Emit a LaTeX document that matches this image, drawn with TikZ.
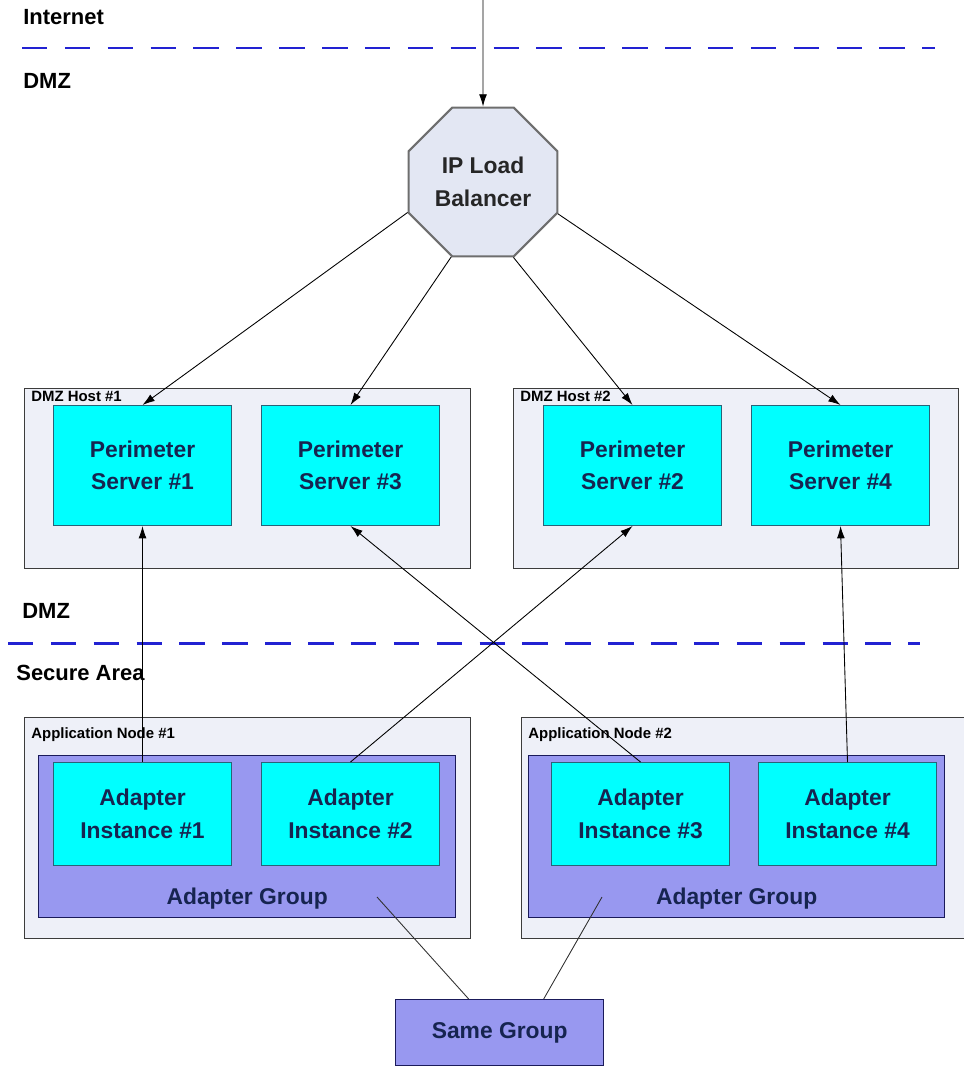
\documentclass[tikz,border=0pt]{standalone}
\usepackage{fontspec}
\setmainfont{Liberation Sans}
\usepackage{xcolor}
\usetikzlibrary{shapes.geometric,arrows.meta,positioning,calc}

\definecolor{hostfill}{RGB}{238,240,248}
\definecolor{hostline}{RGB}{60,60,60}
\definecolor{srvfill}{RGB}{0,255,255}
\definecolor{srvline}{RGB}{40,100,120}
\definecolor{grpfill}{RGB}{152,152,240}
\definecolor{grpline}{RGB}{26,26,90}
\definecolor{lbfill}{RGB}{227,231,243}
\definecolor{lbline}{RGB}{110,110,110}
\definecolor{zoneblue}{RGB}{34,34,210}
\definecolor{boxtext}{RGB}{22,36,80}

\begin{document}
\begin{tikzpicture}[
    x=0.02cm, y=-0.02cm,
    zonetext/.style={anchor=west, inner sep=0pt, font=\bfseries\fontsize{12.5}{15}\selectfont},
    zoneline/.style={draw=zoneblue, line width=1.7pt, dash pattern=on 14.5pt off 9.9pt},
    hostbox/.style={rectangle, draw=hostline, fill=hostfill, line width=0.8pt, anchor=north west, inner sep=0pt, minimum width=8.92cm, minimum height=3.6cm},
    hosttext/.style={anchor=north west, inner sep=0pt, font=\bfseries\fontsize{8.5}{10}\selectfont},
    srvbox/.style={rectangle, draw=srvline, fill=srvfill, line width=0.6pt, anchor=north west, align=center, text=boxtext, font=\bfseries\fontsize{13}{18.5}\selectfont, minimum width=3.56cm, minimum height=2.4cm, inner sep=0pt},
    instbox/.style={srvbox, minimum height=2.06cm},
    grpbox/.style={rectangle, draw=grpline, fill=grpfill, line width=0.8pt, anchor=north west, minimum width=8.34cm, minimum height=3.24cm, inner sep=0pt},
    grptext/.style={text=boxtext, font=\bfseries\fontsize{13}{15}\selectfont},
    balancer/.style={regular polygon, regular polygon sides=8, draw=lbline, fill=lbfill, line width=1.2pt, minimum size=3.22cm, inner sep=0pt, align=center, text=black!85, font=\bfseries\fontsize{13}{18.5}\selectfont},
    arrow/.style={-{Latex[length=7pt,width=4.5pt]}, line width=0.5pt, draw=black},
    link/.style={line width=0.5pt, draw=black!80}
]
    \useasboundingbox (0,0) rectangle (963,1067);

    % zones
    \node [zonetext] (inet) at (23,17) {Internet};
    \draw [zoneline] (22,48) -- (935,48);
    \node [zonetext] (dmz1) at (23,81) {DMZ};
    \node [zonetext] (dmz2) at (22,611) {DMZ};
    \draw [zoneline] (8,643) -- (920,643);
    \node [zonetext] (secure) at (16,673) {Secure Area};

    % load balancer
    \node [balancer] (lb) at (483,182) {IP Load\\Balancer};
    \coordinate (top) at (483,0);

    % DMZ hosts
    \node [hostbox] (h1) at (24,388) {};
    \node [hosttext] at (31,391) {DMZ Host \#1};
    \node [hostbox, minimum width=8.9cm] (h2) at (513,388) {};
    \node [hosttext] at (520,391) {DMZ Host \#2};
    \node [srvbox] (ps1) at (53,405) {Perimeter\\Server \#1};
    \node [srvbox] (ps3) at (261,405) {Perimeter\\Server \#3};
    \node [srvbox] (ps2) at (543,405) {Perimeter\\Server \#2};
    \node [srvbox] (ps4) at (751,405) {Perimeter\\Server \#4};

    % application nodes
    \node [hostbox, minimum height=4.42cm] (an1) at (24,717) {};
    \node [hosttext] at (31,727) {Application Node \#1};
    \node [hostbox, minimum height=4.42cm, minimum width=8.98cm] (an2) at (521,717) {};
    \node [hosttext] at (528,727) {Application Node \#2};
    \node [grpbox] (ag1) at (38,755) {};
    \node [grpbox, minimum width=8.32cm] (ag2) at (528,755) {};
    \node [grptext] (ag1t) at ($(ag1.south)+(0,-20)$) {Adapter Group};
    \node [grptext] (ag2t) at ($(ag2.south)+(0,-20)$) {Adapter Group};
    \node [instbox] (ai1) at (53,762) {Adapter\\Instance \#1};
    \node [instbox] (ai2) at (261,762) {Adapter\\Instance \#2};
    \node [instbox] (ai3) at (551,762) {Adapter\\Instance \#3};
    \node [instbox] (ai4) at (758,762) {Adapter\\Instance \#4};

    % same group
    \node [grpbox, grptext, minimum width=4.16cm, minimum height=1.32cm] (sg) at (395,999) {Same Group};
    \coordinate (g1pt) at (377,897);
    \coordinate (g2pt) at (602,897);

    % connectors
    \draw [arrow] (top) -- (lb.north);
    \draw [arrow] (lb.202.5) -- (ps1.north);
    \draw [arrow] (lb.247.5) -- (ps3.north);
    \draw [arrow] (lb.292.5) -- (ps2.north);
    \draw [arrow] (lb.337.5) -- (ps4.north);
    \draw [arrow] (ai1.north) -- (ps1.south);
    \draw [arrow] (ai2.north) -- (ps2.south);
    \draw [arrow] (ai3.north) -- (ps3.south);
    \draw [arrow] (ai4.north) -- (ps4.south);
    \draw [link] ([xshift=-0.62cm]sg.north) -- (g1pt);
    \draw [link] ([xshift=0.88cm]sg.north) -- (g2pt);
\end{tikzpicture}
\end{document}
